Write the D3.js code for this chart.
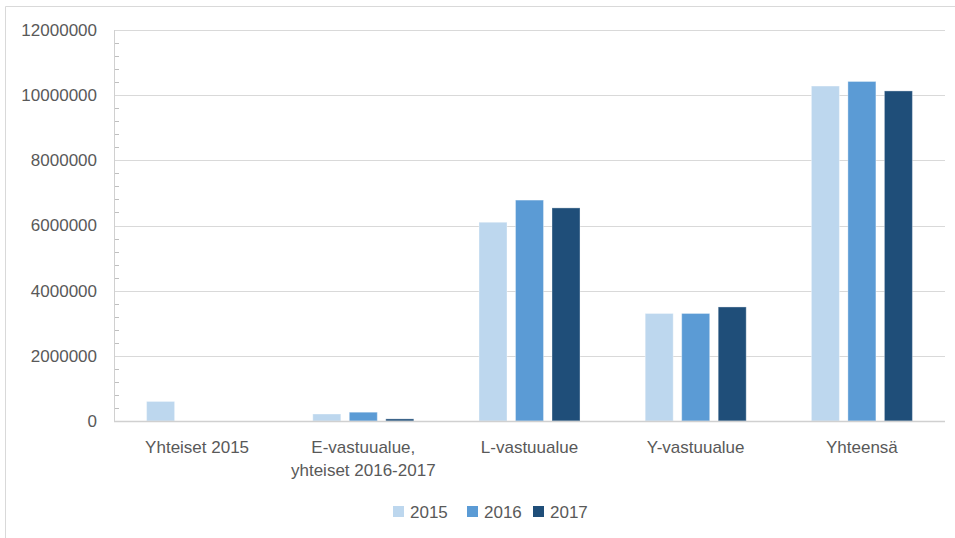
<!DOCTYPE html>
<html lang="fi">
<head>
  <meta charset="UTF-8">
  <title>Vastuualueet 2015-2017</title>
  <style>
    body { margin: 0; background: #fff; }
    svg text { font-family: "Liberation Sans", Arial, sans-serif; fill: #595959; }
  </style>
</head>
<body>
  <svg id="chart" width="955" height="538"></svg>
  <script src="https://d3js.org/d3.v7.min.js"></script>
  <script>
    // Data
    const categories = [["Yhteiset 2015"], ["E-vastuualue,", "yhteiset 2016-2017"], ["L-vastuualue"], ["Y-vastuualue"], ["Yhteensä"]];
    const years = ["2015", "2016", "2017"];
    const values2015 = [600000, 215000, 6100000, 3300000, 10280000];
    const values2016 = [0, 270000, 6780000, 3300000, 10420000];
    const values2017 = [0, 65000, 6540000, 3500000, 10130000];
    const yTicks = [0, 2000000, 4000000, 6000000, 8000000, 10000000, 12000000];
    const colors = ["#BDD7EE", "#5B9BD5", "#1F4E79"];

    const series = [values2015, values2016, values2017];
    const svg = d3.select("#chart");

    // outer frame (only top and left edges show)
    svg.append("line").attr("x1", 5.5).attr("x2", 955).attr("y1", 6.5).attr("y2", 6.5)
      .attr("stroke", "#d9d9d9");
    svg.append("line").attr("x1", 5.5).attr("x2", 5.5).attr("y1", 6.5).attr("y2", 538)
      .attr("stroke", "#d9d9d9");

    const plotLeft = 114, plotRight = 945, plotTop = 30, plotBottom = 421;

    const x = d3.scaleBand().domain(d3.range(categories.length)).range([plotLeft, plotRight]);
    const y = d3.scaleLinear().domain([0, 12000000]).range([plotBottom, plotTop]);

    // gridlines
    svg.append("g")
      .selectAll("line")
      .data(yTicks.slice(1))
      .join("line")
      .attr("x1", plotLeft).attr("x2", plotRight)
      .attr("y1", d => Math.round(y(d)) + 0.5).attr("y2", d => Math.round(y(d)) + 0.5)
      .attr("stroke", "#d9d9d9").attr("stroke-width", 1.2);

    // minor ticks on the y axis
    const minor = d3.range(0, 12000001, 400000).filter(v => v % 2000000 !== 0);
    svg.append("g")
      .selectAll("line")
      .data(minor)
      .join("line")
      .attr("x1", plotLeft).attr("x2", plotLeft + 5)
      .attr("y1", d => Math.round(y(d)) + 0.5).attr("y2", d => Math.round(y(d)) + 0.5)
      .attr("stroke", "#bfbfbf");

    // y axis line
    svg.append("line").attr("x1", plotLeft + 0.5).attr("x2", plotLeft + 0.5)
      .attr("y1", plotTop).attr("y2", plotBottom).attr("stroke", "#d0d0d0");

    // y tick labels
    const yAxis = svg.append("g")
      .attr("transform", `translate(${plotLeft},0)`)
      .call(d3.axisLeft(y).tickValues(yTicks).tickSize(0).tickPadding(17).tickFormat(d3.format("d")));
    yAxis.select(".domain").remove();
    yAxis.selectAll("text").style("font-size", "17px").attr("fill", "#595959")
      .attr("font-family", "Liberation Sans, Arial, sans-serif");

    // bars
    const inner = d3.scaleBand().domain(d3.range(years.length))
      .range([0, x.bandwidth()]).paddingInner(0.233).paddingOuter(0.893);

    series.forEach((vals, si) => {
      svg.append("g")
        .selectAll("rect")
        .data(vals)
        .join("rect")
        .attr("x", (d, i) => x(i) + inner(si))
        .attr("width", inner.bandwidth())
        .attr("y", d => y(d))
        .attr("height", d => plotBottom - y(d))
        .attr("fill", colors[si])
        .attr("stroke", d => d > 0 ? "rgba(255,255,255,0.35)" : "none")
        .attr("stroke-width", 1);
    });

    // x axis line
    svg.append("line").attr("x1", plotLeft).attr("x2", plotRight)
      .attr("y1", plotBottom + 0.5).attr("y2", plotBottom + 0.5)
      .attr("stroke", "#d0d0d0").attr("stroke-width", 1.5);

    // category labels
    const catLabels = svg.append("g")
      .selectAll("text")
      .data(categories)
      .join("text")
      .attr("x", (d, i) => x(i) + x.bandwidth() / 2)
      .attr("y", 453)
      .attr("text-anchor", "middle")
      .style("font-size", "17px");
    catLabels.selectAll("tspan")
      .data(d => d)
      .join("tspan")
      .attr("x", function () { return this.parentNode.getAttribute("x"); })
      .attr("dy", (d, i) => i === 0 ? 0 : 23)
      .text(d => d);

    // legend
    const legendX = [393, 467, 533];
    const legend = svg.append("g")
      .selectAll("g")
      .data(years)
      .join("g")
      .attr("transform", (d, i) => `translate(${legendX[i]},506)`);
    legend.append("rect").attr("width", 11).attr("height", 11)
      .attr("fill", (d, i) => colors[i]);
    legend.append("text").attr("x", 17).attr("y", 11.5)
      .style("font-size", "17px").text(d => d);
  </script>
</body>
</html>
